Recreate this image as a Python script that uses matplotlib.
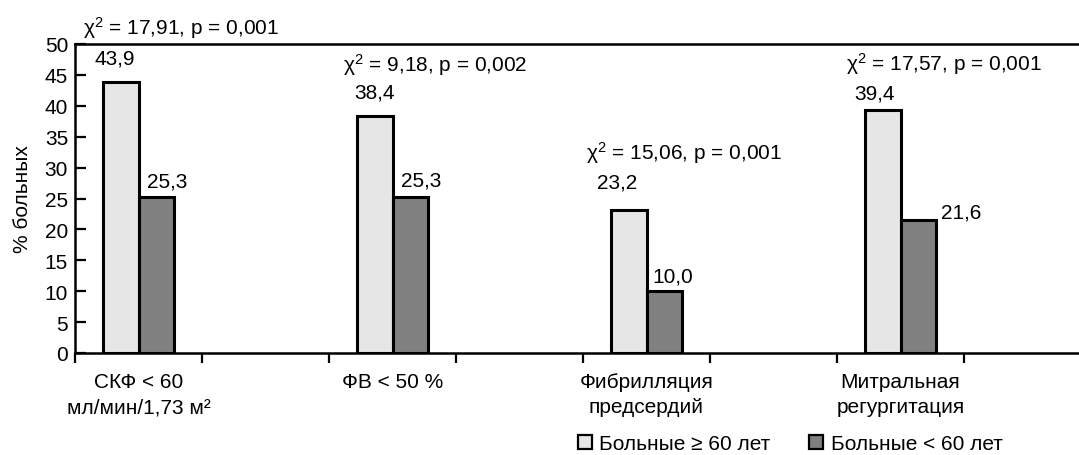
import numpy as np
import matplotlib
matplotlib.use("Agg")
import matplotlib.pyplot as plt
from matplotlib.patches import Patch

plt.rcParams["font.family"] = ["Liberation Sans", "DejaVu Sans"]
plt.rcParams["mathtext.fontset"] = "custom"
plt.rcParams["mathtext.rm"] = "Liberation Sans"
plt.rcParams["mathtext.it"] = "Liberation Sans:italic"
plt.rcParams["mathtext.default"] = "regular"

# data
categories = [
    "СКФ < 60\nмл/мин/1,73 м²",
    "ФВ < 50 %",
    "Фибрилляция\nпредсердий",
    "Митральная\nрегургитация",
]
old_pct = [43.9, 38.4, 23.2, 39.4]      # Больные >= 60 лет
young_pct = [25.3, 25.3, 10.0, 21.6]    # Больные < 60 лет
chi2_vals = ["17,91", "9,18", "15,06", "17,57"]
p_vals = ["0,001", "0,002", "0,001", "0,001"]
series_names = ["Больные ≥ 60 лет", "Больные < 60 лет"]

LIGHT = "#e6e6e6"
DARK = "#808080"
FS = 15
PX = 0.72  # points per pixel at dpi 100

# label nudges in pixels (dx, dy up) relative to bar centre / top
old_off = [(-6, 24), (0, 24), (-12, 28), (-8, 17)]
young_off = [(11, 16), (11, 17), (9, 15), (43, 8)]
chi_off = [(43, 55), (43, 52), (38, 58), (43, 46)]

fig = plt.figure(figsize=(10.79, 4.56), dpi=100)
ax = fig.add_axes([75 / 1079, 102 / 456, 1016 / 1079, 309 / 456])

n = len(categories)
centers = np.arange(n) * 2.0
w = 0.276

ax.bar(centers - w / 2, old_pct, width=w, color=LIGHT, edgecolor="black",
       linewidth=2.2, zorder=3)
ax.bar(centers + w / 2, young_pct, width=w, color=DARK, edgecolor="black",
       linewidth=2.2, zorder=3)

for i in range(n):
    dx, dy = old_off[i]
    ax.annotate(f"{old_pct[i]:.1f}".replace(".", ","),
                (centers[i] - w / 2, old_pct[i]),
                xytext=(dx * PX, dy * PX), textcoords="offset points",
                ha="center", va="center", fontsize=FS)
    dx, dy = young_off[i]
    ax.annotate(f"{young_pct[i]:.1f}".replace(".", ","),
                (centers[i] + w / 2, young_pct[i]),
                xytext=(dx * PX, dy * PX), textcoords="offset points",
                ha="center", va="center", fontsize=FS)
    dx, dy = chi_off[i]
    ax.annotate(rf"$\chi^2$ = {chi2_vals[i]}, p = {p_vals[i]}",
                (centers[i], old_pct[i]),
                xytext=(dx * PX, dy * PX), textcoords="offset points",
                ha="center", va="center", fontsize=FS)

ax.set_xlim(-0.5, 2 * n - 0.5)
ax.set_ylim(0, 50)
ax.set_yticks(np.arange(0, 51, 5))

ax.set_xticks(np.arange(-0.5, 2 * n, 1.0))
ax.set_xticklabels([])
ax.set_xticks(centers, minor=True)
ax.set_xticklabels(categories, minor=True, fontsize=FS, linespacing=1.38)
ax.tick_params(axis="x", which="major", direction="out", length=7, width=1.6)
ax.tick_params(axis="x", which="minor", length=0, pad=14)
ax.tick_params(axis="y", direction="in", length=8, width=1.6, pad=5,
               labelsize=FS)

for side in ["left", "bottom", "top"]:
    ax.spines[side].set_linewidth(1.8)
ax.spines["right"].set_visible(False)

ax.set_ylabel("% больных", fontsize=FS, va="center")
ax.yaxis.set_label_coords(-0.052, 0.5)

handles = [
    Patch(facecolor=LIGHT, edgecolor="black", linewidth=1.6, label=series_names[0]),
    Patch(facecolor=DARK, edgecolor="black", linewidth=1.6, label=series_names[1]),
]
fig.legend(handles=handles, loc="center", ncol=2, frameon=False, fontsize=FS,
           bbox_to_anchor=(790 / 1079, 11 / 456), handlelength=0.67,
           handleheight=0.67, handletextpad=0.34, columnspacing=1.9)

fig.savefig("out.png", dpi=100)
